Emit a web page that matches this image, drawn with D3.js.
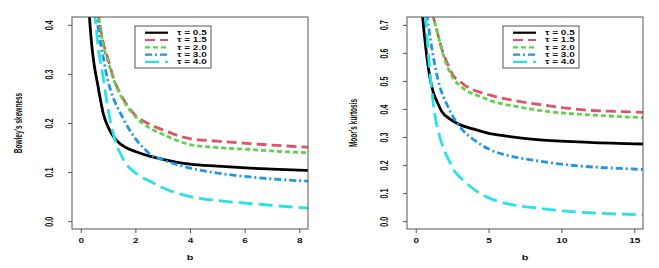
<!DOCTYPE html>
<html>
<head>
<meta charset="utf-8">
<script src="https://cdn.jsdelivr.net/npm/d3@7"></script>
<style>
  body { margin: 0; background: #fff; }
  text { font-family: "Liberation Sans", Arial, sans-serif; fill: #111; font-weight: bold; }
</style>
</head>
<body>
<div id="chart"></div>
<script>
// 图例标签与颜色
const tauLabels = ["τ = 0.5", "τ = 1.5", "τ = 2.0", "τ = 3.0", "τ = 4.0"];
const lineColors = ["#000000", "#DF536B", "#61D04F", "#2297E6", "#28E2E5"];
const lineDashes = [null, "10,5", "5,3", "7,3,2,3", "14,6"];

// 左图: Bowley's skewness, 每条曲线的 b 与取值
const bowleyB = [
  [0.3, 0.4, 0.5, 0.6, 0.73, 0.83, 1.0, 1.14, 1.3, 1.65, 2.0, 2.55, 3.0, 4.0, 5.0, 6.2, 7.0, 8.5],
  [0.62, 0.7, 0.8, 1.0, 1.23, 1.5, 1.96, 2.5, 3.0, 4.0, 5.0, 6.2, 7.0, 8.5],
  [0.62, 0.7, 0.8, 1.0, 1.23, 1.5, 2.0, 2.55, 3.0, 4.0, 5.0, 6.2, 7.0, 8.5],
  [0.55, 0.7, 0.8, 0.99, 1.2, 1.47, 2.0, 2.32, 2.55, 3.0, 4.0, 5.0, 6.2, 7.0, 8.5],
  [0.5, 0.65, 0.8, 0.99, 1.23, 1.53, 2.08, 2.55, 3.0, 4.0, 5.0, 6.2, 7.0, 8.5]
];
const bowleyV = [
  [0.43, 0.36, 0.315, 0.285, 0.245, 0.218, 0.192, 0.177, 0.165, 0.150, 0.142, 0.132, 0.126, 0.116, 0.112, 0.108, 0.106, 0.103],
  [0.43, 0.40, 0.37, 0.33, 0.287, 0.255, 0.218, 0.198, 0.186, 0.168, 0.163, 0.158, 0.155, 0.150],
  [0.43, 0.40, 0.365, 0.325, 0.285, 0.252, 0.213, 0.189, 0.177, 0.156, 0.150, 0.146, 0.143, 0.139],
  [0.43, 0.37, 0.34, 0.287, 0.25, 0.218, 0.168, 0.148, 0.136, 0.125, 0.108, 0.098, 0.090, 0.086, 0.081],
  [0.43, 0.35, 0.30, 0.232, 0.170, 0.129, 0.095, 0.081, 0.068, 0.050, 0.042, 0.036, 0.032, 0.026]
];

// 右图: Moor's kurtosis
const moorsB = [
  [0.45, 0.6, 0.73, 0.96, 1.2, 1.42, 1.8, 2.33, 3.0, 3.93, 5.0, 6.0, 8.5, 11.9, 15.7],
  [1.15, 1.5, 1.88, 2.2, 2.56, 3.0, 3.5, 4.5, 5.4, 7.0, 8.5, 10.0, 11.9, 14.0, 15.7],
  [1.15, 1.5, 1.88, 2.56, 3.0, 3.5, 4.5, 5.05, 7.0, 8.5, 10.0, 11.9, 14.0, 15.7],
  [0.75, 1.08, 1.53, 2.22, 3.25, 4.0, 5.05, 6.5, 8.5, 10.0, 11.9, 14.0, 15.7],
  [0.68, 0.8, 0.96, 1.3, 1.6, 1.88, 2.2, 2.67, 3.22, 4.37, 5.05, 6.5, 8.5, 10.0, 11.9, 14.0, 15.7]
];
const moorsV = [
  [0.74, 0.66, 0.60, 0.516, 0.46, 0.431, 0.39, 0.365, 0.345, 0.329, 0.313, 0.305, 0.290, 0.281, 0.275],
  [0.74, 0.67, 0.60, 0.56, 0.52, 0.50, 0.48, 0.458, 0.445, 0.428, 0.416, 0.405, 0.395, 0.391, 0.388],
  [0.74, 0.67, 0.595, 0.51, 0.485, 0.465, 0.443, 0.431, 0.408, 0.395, 0.386, 0.379, 0.373, 0.369],
  [0.74, 0.624, 0.504, 0.407, 0.323, 0.29, 0.256, 0.232, 0.214, 0.203, 0.194, 0.188, 0.184],
  [0.74, 0.64, 0.54, 0.383, 0.31, 0.263, 0.225, 0.178, 0.148, 0.100, 0.082, 0.060, 0.046, 0.037, 0.030, 0.025, 0.022]
];

const bowleyXTicks = [0, 2, 4, 6, 8];
const bowleyYTicks = [0, 0.1, 0.2, 0.3, 0.4];
const moorsXTicks = [0, 5, 10, 15];
const moorsYTicks = [0, 0.1, 0.2, 0.3, 0.4, 0.5, 0.6, 0.7];

const svg = d3.select("#chart").append("svg")
  .attr("width", 659).attr("height", 268);

const SQ = 0.7; // 原图文字被纵向压扁

function drawPanel(opt) {
  const x = d3.scaleLinear().domain(opt.xDomain).range([opt.left, opt.right]);
  const y = d3.scaleLinear().domain(opt.yDomain).range([opt.bottom, opt.top]);
  const g = svg.append("g");

  // 裁剪区域
  g.append("clipPath").attr("id", opt.id)
    .append("rect")
    .attr("x", opt.left).attr("y", opt.top)
    .attr("width", opt.right - opt.left).attr("height", opt.bottom - opt.top);

  // 曲线
  const line = d3.line()
    .x(d => x(d[0]))
    .y(d => y(d[1]))
    .curve(d3.curveMonotoneX);

  const curves = g.append("g").attr("clip-path", `url(#${opt.id})`);
  opt.bs.forEach((bs, i) => {
    const pts = bs.map((b, j) => [b, opt.vs[i][j]]);
    curves.append("path")
      .datum(pts)
      .attr("d", line)
      .attr("fill", "none")
      .attr("stroke", lineColors[i])
      .attr("stroke-width", 2.8)
      .attr("stroke-dasharray", lineDashes[i]);
  });

  // 边框
  g.append("rect")
    .attr("x", opt.left).attr("y", opt.top)
    .attr("width", opt.right - opt.left).attr("height", opt.bottom - opt.top)
    .attr("fill", "none").attr("stroke", "#555").attr("stroke-width", 1);

  // x 轴
  const xa = g.append("g")
    .attr("transform", `translate(0,${opt.bottom})`)
    .call(d3.axisBottom(x).tickValues(opt.xTicks).tickSize(4).tickFormat(d3.format("d")));
  xa.select(".domain").remove();
  xa.selectAll(".tick line").attr("stroke", "#555");
  xa.selectAll(".tick text")
    .attr("font-size", 10).attr("fill", "#111")
    .attr("y", 12 / SQ).attr("dy", "0.35em")
    .attr("transform", `scale(1,${SQ})`);

  // y 轴
  const ya = g.append("g")
    .attr("transform", `translate(${opt.left},0)`)
    .call(d3.axisLeft(y).tickValues(opt.yTicks).tickSize(4).tickFormat(d3.format(".1f")));
  ya.select(".domain").remove();
  ya.selectAll(".tick line").attr("stroke", "#555");
  ya.selectAll(".tick text")
    .attr("font-size", 10).attr("fill", "#111")
    .attr("x", 0).attr("y", 0).attr("dy", "0.35em")
    .attr("text-anchor", "middle")
    .attr("transform", `translate(-23,0) scale(1,0.72) rotate(-90)`);

  // 轴标题
  g.append("text")
    .attr("transform", `translate(${(opt.left + opt.right) / 2},257) scale(1,${SQ})`)
    .attr("text-anchor", "middle").attr("dy", "0.35em")
    .attr("font-size", 11)
    .text("b");
  g.append("text")
    .attr("transform", `translate(${opt.left - 54},${(opt.top + opt.bottom) / 2}) scale(1,0.62) rotate(-90)`)
    .attr("text-anchor", "middle").attr("dy", "0.35em")
    .attr("font-size", 10.5)
    .text(opt.yTitle);

  // 图例
  const lg = g.append("g").attr("transform", `translate(${opt.legX},26)`);
  lg.append("rect")
    .attr("width", 76).attr("height", 42)
    .attr("fill", "#fff").attr("stroke", "#555").attr("stroke-width", 1);
  tauLabels.forEach((lab, i) => {
    const yy = 6.7 + i * 7.3;
    lg.append("line")
      .attr("x1", 10).attr("x2", 33).attr("y1", yy).attr("y2", yy)
      .attr("stroke", lineColors[i]).attr("stroke-width", 2.2)
      .attr("stroke-dasharray", lineDashes[i]);
    lg.append("text")
      .attr("transform", `translate(42,${yy}) scale(1,${SQ})`)
      .attr("dy", "0.35em").attr("font-size", 10)
      .text(lab);
  });
}

drawPanel({
  id: "clipL", left: 72, right: 308, top: 17, bottom: 229,
  xDomain: [-0.32, 8.32], yDomain: [-0.016, 0.416],
  xTicks: bowleyXTicks, yTicks: bowleyYTicks,
  bs: bowleyB, vs: bowleyV,
  yTitle: "Bowley's skewness", legX: 135
});

drawPanel({
  id: "clipR", left: 407, right: 643, top: 17, bottom: 229,
  xDomain: [-0.6, 15.6], yDomain: [-0.028, 0.728],
  xTicks: moorsXTicks, yTicks: moorsYTicks,
  bs: moorsB, vs: moorsV,
  yTitle: "Moor's kurtosis", legX: 503
});
</script>
</body>
</html>
